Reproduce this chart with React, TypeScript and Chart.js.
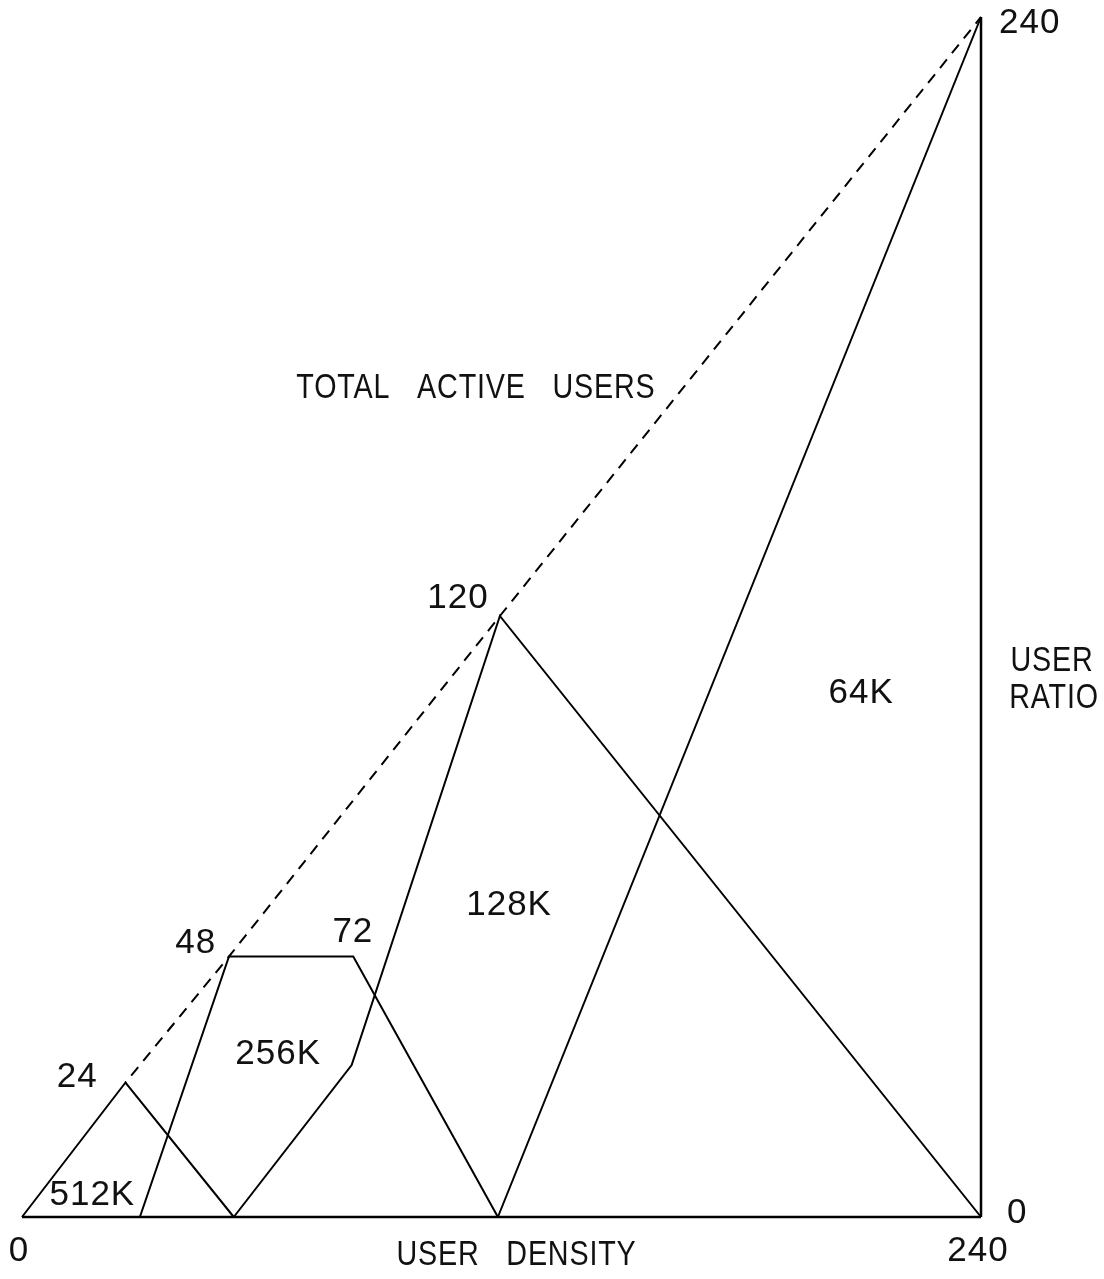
import React, { useEffect, useRef } from "react";
import { Chart, registerables } from "chart.js";

Chart.register(...registerables);

// ---- data (user density on x, user ratio on y) ----
const xTicks = [0, 240];
const yTicks = [0, 240];

const band512X = [0, 25.9, 53];
const band512Y = [0, 26.9, 0];

const band256X = [29.5, 51.8, 82.9, 119.1];
const band256Y = [0, 52.1, 52.1, 0];

const band128X = [53, 82.5, 119.6, 240];
const band128Y = [0, 30.4, 120.2, 0];

const band64X = [119.1, 240];
const band64Y = [0, 240];

const totalX = [25.9, 51.8, 119.6, 240];
const totalY = [26.9, 52.1, 120.2, 240];

const axisBottomX = [0, 240];
const axisBottomY = [0, 0];
const axisRightX = [240, 240];
const axisRightY = [0, 240];

const labelTexts = ["TOTAL ACTIVE USERS", "120", "64K", "128K", "48", "72", "256K", "24", "512K"];
const labelX = [113.6, 109.1, 210, 121.9, 43.5, 82.8, 64.1, 13.8, 17.6];
const labelY = [165.8, 123.8, 104.8, 62.4, 54.8, 57, 32.6, 28, 4.4];

const xTitle = "USER DENSITY";
const yTitle = ["USER", "RATIO"];

const pts = (xs: number[], ys: number[]) => xs.map((x, i) => ({ x, y: ys[i] }));

const FONT = '35px "Liberation Sans", Arial, sans-serif';

function drawText(ctx: CanvasRenderingContext2D, text: string, x: number, y: number, align: CanvasTextAlign = "center") {
  const isWord = /[A-Z]{2,}/.test(text);
  ctx.save();
  ctx.font = FONT;
  ctx.fillStyle = "#111";
  ctx.textAlign = align;
  ctx.textBaseline = "middle";
  ctx.translate(x, y);
  if (isWord) {
    ctx.scale(0.82, 1);
    (ctx as any).letterSpacing = "1px";
    (ctx as any).wordSpacing = "22px";
  } else {
    (ctx as any).letterSpacing = "1px";
  }
  ctx.fillText(text, 0, 0);
  ctx.restore();
}

const textPlugin = {
  id: "textPlugin",
  afterDraw(chart: any) {
    const ctx = chart.ctx as CanvasRenderingContext2D;
    const xs = chart.scales.x;
    const ys = chart.scales.y;
    labelTexts.forEach((t, i) => {
      drawText(ctx, t, xs.getPixelForValue(labelX[i]), ys.getPixelForValue(labelY[i]));
    });
    // x tick labels
    const yBottom = ys.getPixelForValue(0);
    xTicks.forEach((v) => {
      drawText(ctx, String(v), xs.getPixelForValue(v) - 3, yBottom + 34);
    });
    // x title
    drawText(ctx, xTitle, (xs.getPixelForValue(0) + xs.getPixelForValue(240)) / 2 + 15, yBottom + 38);
    // y tick labels on the right
    const xRight = xs.getPixelForValue(240);
    yTicks.forEach((v) => {
      const off = v === 0 ? -4 : 6;
      drawText(ctx, String(v), xRight + (v === 0 ? 26 : 18), ys.getPixelForValue(v) + off, "left");
    });
    // y title
    const midY = ys.getPixelForValue(107.5);
    drawText(ctx, yTitle[0], xRight + 71, midY - 18);
    drawText(ctx, yTitle[1], xRight + 73, midY + 19);
  },
};

export default function App() {
  const ref = useRef<HTMLCanvasElement | null>(null);
  useEffect(() => {
    if (!ref.current) return;
    const solid = (label: string, data: any[], w = 2) => ({
      label,
      data,
      showLine: true,
      borderColor: "#000",
      borderWidth: w,
      pointRadius: 0,
      fill: false,
      tension: 0,
      clip: false as any,
    });
    const chart = new Chart(ref.current, {
      type: "scatter",
      data: {
        datasets: [
          solid("512K", pts(band512X, band512Y)),
          solid("256K", pts(band256X, band256Y)),
          solid("128K", pts(band128X, band128Y)),
          solid("64K", pts(band64X, band64Y)),
          {
            ...solid("Total active users", pts(totalX, totalY)),
            borderDash: [11, 8],
            borderDashOffset: -9,
          },
          solid("axis bottom", pts(axisBottomX, axisBottomY), 2.5),
          solid("axis right", pts(axisRightX, axisRightY), 2.5),
        ],
      },
      options: {
        animation: false,
        responsive: false,
        maintainAspectRatio: false,
        layout: { padding: { left: 22, right: 123, top: 17, bottom: 62 } },
        plugins: { legend: { display: false }, tooltip: { enabled: false }, title: { display: false } },
        scales: {
          x: { type: "linear", min: 0, max: 240, display: false },
          y: { type: "linear", min: 0, max: 240, display: false },
        },
      },
      plugins: [textPlugin],
    });
    return () => chart.destroy();
  }, []);
  return (
    <div style={{ position: "absolute", left: 0, top: 0, width: 1104, height: 1279, background: "#fff" }}>
      <canvas ref={ref} width={1104} height={1279} style={{ width: 1104, height: 1279, display: "block" }} />
    </div>
  );
}
